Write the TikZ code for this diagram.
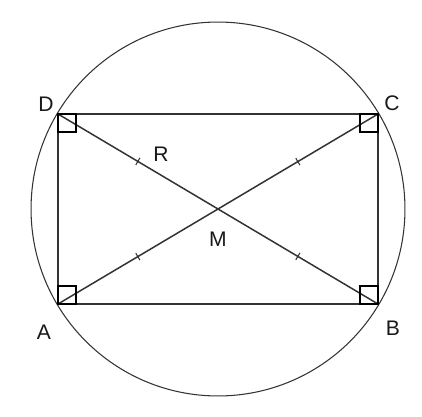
\documentclass[tikz,border=0pt]{standalone}
\usepackage{fontspec}
\setmainfont{Liberation Sans}
\usetikzlibrary{calc, decorations.markings, positioning}

\begin{document}
\begin{tikzpicture}[
		x=0.02cm,
		y=-0.02cm,
		every node/.style={
				font=\fontsize{12}{14}\selectfont,
				text=black!90,
				inner sep=0pt
			},
		sideline/.style={line width=0.85pt, draw=black!80},
		halfmark/.style={
				decoration={markings,
						mark=at position 0.5 with {\draw[line width=0.6pt] (0,-4) -- (0,4);}},
				postaction={decorate}
			}
	]
	\useasboundingbox (0,0) rectangle (422,416);

	% corners of the rectangle and the crossing point
	\coordinate (A) at (58, 304);
	\coordinate (B) at (378, 304);
	\coordinate (C) at (378, 114);
	\coordinate (D) at (58, 114);
	\coordinate (M) at (218, 209);

	% circumscribed circle
	\draw[line width=0.6pt, draw=black!80] (M) circle[radius=3.74cm];

	% rectangle
	\draw[sideline] (A) -- (B) -- (C) -- (D) -- cycle;

	% diagonals with equal-length marks
	\draw[sideline, halfmark] (A) -- (M);
	\draw[sideline, halfmark] (M) -- (C);
	\draw[sideline, halfmark] (D) -- (M);
	\draw[sideline, halfmark] (M) -- (B);

	% right angles
	\draw[line width=0.6pt] (A) rectangle ++(18,-18);
	\draw[line width=0.6pt] (B) rectangle ++(-18,-18);
	\draw[line width=0.6pt] (C) rectangle ++(-18,18);
	\draw[line width=0.6pt] (D) rectangle ++(18,18);

	% labels
	\node (labA) at ($(A)+(-14,28)$) {A};
	\node (labB) at ($(B)+(15,24)$) {B};
	\node (labC) at ($(C)+(14,-11)$) {C};
	\node (labD) at ($(D)+(-12,-10)$) {D};
	\node (labR) at (161, 154) {R};
	\node (labM) [below=17pt of M, anchor=center] {M};
\end{tikzpicture}
\end{document}
